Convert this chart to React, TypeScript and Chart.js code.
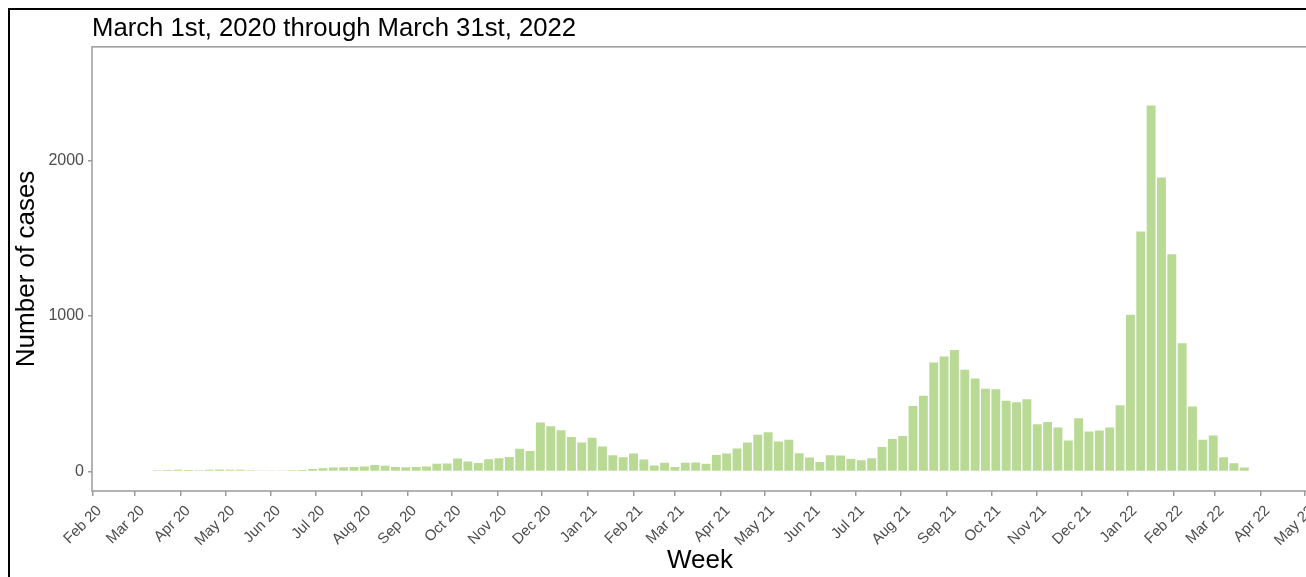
import React, { useEffect, useRef } from 'react';
import { Chart, registerables } from 'chart.js';

Chart.register(...registerables);

const TITLE = 'March 1st, 2020 through March 31st, 2022';
const Y_TITLE = 'Number of cases';
const X_TITLE = 'Week';

// Weekly case counts, one bar per week starting Monday 2020-03-16
const FIRST_WEEK = '2020-03-16';
const weeklyCases = [
  8, 10, 11, 10, 9, 11, 13, 12, 12, 9,
  4, 7, 7, 8, 10, 16, 22, 26, 28, 30,
  32, 42, 38, 30, 28, 30, 32, 50, 52, 84,
  64, 55, 79, 86, 94, 146, 133, 315, 292, 266,
  223, 187, 217, 161, 105, 92, 116, 77, 39, 56,
  30, 56, 58, 51, 107, 116, 148, 187, 236, 253,
  193, 204, 118, 90, 62, 105, 103, 81, 73, 86,
  158, 210, 229, 422, 487, 701, 740, 782, 654, 598,
  532, 530, 455, 446, 465, 304, 319, 283, 199, 343,
  257, 264, 283, 427, 1008, 1544, 2354, 1891, 1398, 825,
  418, 204, 232, 92, 54, 26,
];

const monthTickLabels = [
  'Feb 20', 'Mar 20', 'Apr 20', 'May 20', 'Jun 20', 'Jul 20', 'Aug 20',
  'Sep 20', 'Oct 20', 'Nov 20', 'Dec 20', 'Jan 21', 'Feb 21', 'Mar 21',
  'Apr 21', 'May 21', 'Jun 21', 'Jul 21', 'Aug 21', 'Sep 21', 'Oct 21',
  'Nov 21', 'Dec 21', 'Jan 22', 'Feb 22', 'Mar 22', 'Apr 22', 'May 22',
];
const FIRST_TICK_MONTH = '2020-02-01';
const yTicks = [0, 1000, 2000];

const BAR_COLOR = 'rgb(184,218,148)';
const AXIS_COLOR = '#9a9a9a';
const TICK_TEXT = '#4d4d4d';
const FONT = "'Liberation Sans', Arial, Helvetica, sans-serif";

const DAY_MS = 86400000;
const dayOf = (iso: string) => Date.parse(iso + 'T00:00:00Z') / DAY_MS;
const ORIGIN = dayOf(FIRST_TICK_MONTH);

const tickDays = monthTickLabels.map((_, i) => {
  const d = new Date(FIRST_TICK_MONTH + 'T00:00:00Z');
  return Date.UTC(d.getUTCFullYear(), d.getUTCMonth() + i, 1) / DAY_MS - ORIGIN;
});

const panelBorder = {
  id: 'panelBorder',
  afterDraw(chart: any) {
    const { ctx, chartArea } = chart;
    ctx.save();
    ctx.strokeStyle = AXIS_COLOR;
    ctx.lineWidth = 1.5;
    ctx.strokeRect(chartArea.left, chartArea.top, chartArea.right - chartArea.left, chartArea.bottom - chartArea.top);
    ctx.restore();
  },
};

export default function App() {
  const ref = useRef<HTMLCanvasElement | null>(null);

  useEffect(() => {
    document.body.style.margin = '0';
    const canvas = ref.current;
    if (!canvas) return;
    Chart.defaults.font.family = FONT;
    const firstDay = dayOf(FIRST_WEEK) - ORIGIN;
    const points = weeklyCases.map((v, i) => ({ x: firstDay + 7 * i, y: v }));

    const chart = new Chart(canvas, {
      type: 'bar',
      data: {
        datasets: [
          {
            data: points as any,
            backgroundColor: BAR_COLOR,
            borderWidth: 0,
            barPercentage: 0.86,
            categoryPercentage: 1,
          },
        ],
      },
      options: {
        animation: false,
        responsive: false,
        devicePixelRatio: 1,
        layout: { padding: { left: 0, right: 12, top: 0, bottom: 0 } },
        plugins: {
          legend: { display: false },
          tooltip: { enabled: false },
          title: {
            display: true,
            text: TITLE,
            align: 'start',
            fullSize: false,
            color: '#000',
            font: { size: 25.7, weight: 'normal' },
            padding: { top: 13, bottom: 3 },
          },
        },
        scales: {
          x: {
            type: 'linear',
            min: -0.2,
            max: 822.1,
            offset: false,
            afterBuildTicks: (s: any) => {
              s.ticks = tickDays.map((v) => ({ value: v }));
            },
            afterFit: (s: any) => {
              s.height = 86;
              s.paddingLeft = 0;
              s.paddingRight = 0;
            },
            ticks: {
              autoSkip: false,
              minRotation: 45,
              maxRotation: 45,
              color: TICK_TEXT,
              font: { size: 15 },
              padding: 6,
              labelOffset: 7,
              callback: (_v: any, i: number) => monthTickLabels[i],
            },
            grid: {
              display: true,
              offset: false,
              drawOnChartArea: false,
              drawTicks: true,
              tickLength: 5,
              color: AXIS_COLOR,
              lineWidth: 1.5,
            },
            border: { display: false },
            title: {
              display: true,
              text: X_TITLE,
              color: '#000',
              font: { size: 26 },
              padding: { top: 0, bottom: 1 },
            },
          },
          y: {
            min: -125,
            max: 2731,
            afterBuildTicks: (s: any) => {
              s.ticks = yTicks.map((v) => ({ value: v }));
            },
            afterFit: (s: any) => {
              s.width = 92;
            },
            ticks: {
              color: TICK_TEXT,
              font: { size: 16 },
              padding: 4,
              callback: (v: any) => String(v),
            },
            grid: {
              display: true,
              drawOnChartArea: false,
              drawTicks: true,
              tickLength: 4,
              color: AXIS_COLOR,
              lineWidth: 1.5,
            },
            border: { display: false },
            title: {
              display: true,
              text: Y_TITLE,
              color: '#000',
              font: { size: 26 },
              padding: { top: 11, bottom: 0 },
            },
          },
        },
      } as any,
      plugins: [panelBorder],
    });
    return () => chart.destroy();
  }, []);

  return (
    <div style={{ position: 'relative', width: 1306, height: 577, overflow: 'hidden', background: '#fff' }}>
      <div
        style={{
          position: 'absolute',
          left: 8,
          top: 8,
          width: 1400,
          height: 700,
          borderLeft: '2px solid #000',
          borderTop: '2px solid #000',
        }}
      />
      <canvas
        ref={ref}
        width={1320}
        height={577}
        style={{ position: 'absolute', left: 0, top: 0, width: 1320, height: 577, display: 'block' }}
      />
    </div>
  );
}
